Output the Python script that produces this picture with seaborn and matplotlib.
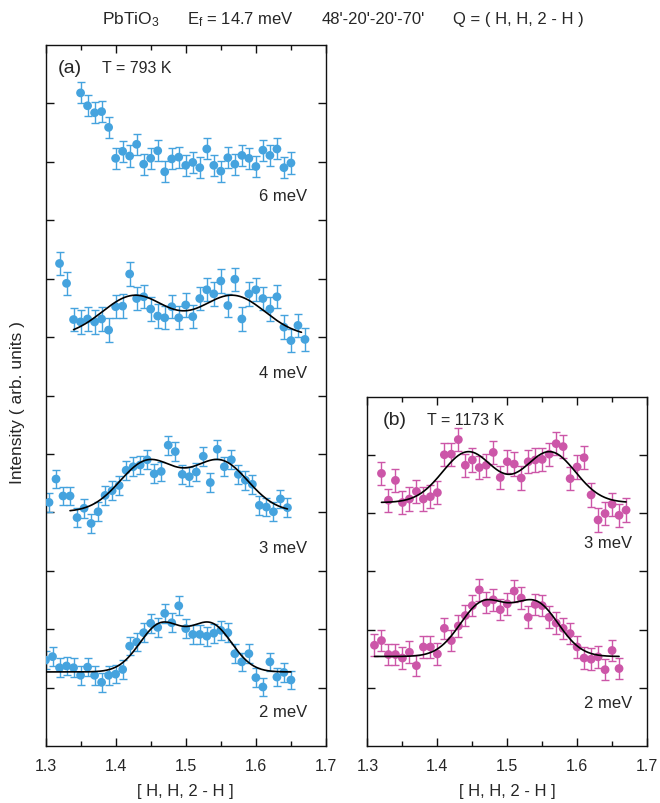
import numpy as np
import pandas as pd
import matplotlib
matplotlib.use("Agg")
import matplotlib.pyplot as plt
import seaborn as sns

sns.set_style("ticks")
plt.rcParams['font.family'] = ['Liberation Sans', 'DejaVu Sans']
plt.rcParams['mathtext.fontset'] = 'custom'
plt.rcParams['mathtext.rm'] = 'Liberation Sans'
plt.rcParams['mathtext.it'] = 'Liberation Sans'

BLUE = '#45a3de'
PINK = '#cc56a8'

# ---------------- data (intensity in offset units of the tick spacing) ----------------
H_A6 = [1.35, 1.36, 1.37, 1.38, 1.39, 1.40, 1.41, 1.42, 1.43, 1.44, 1.45, 1.46, 1.47, 1.48,
        1.49, 1.50, 1.51, 1.52, 1.53, 1.54, 1.55, 1.56, 1.57, 1.58, 1.59, 1.60, 1.61, 1.62,
        1.63, 1.64, 1.65]
I_A6 = [11.18, 10.96, 10.84, 10.86, 10.59, 10.06, 10.18, 10.10, 10.30, 9.96, 10.06, 10.19,
        9.83, 10.05, 10.08, 9.94, 9.99, 9.90, 10.22, 9.94, 9.84, 10.07, 9.96, 10.11, 10.06,
        9.92, 10.20, 10.11, 10.22, 9.90, 9.98]

H_A4 = [1.32, 1.33, 1.34, 1.35, 1.36, 1.37, 1.38, 1.39, 1.40, 1.41, 1.42, 1.43, 1.44, 1.45,
        1.46, 1.47, 1.48, 1.49, 1.50, 1.51, 1.52, 1.53, 1.54, 1.55, 1.56, 1.57, 1.58, 1.59,
        1.60, 1.61, 1.62, 1.63, 1.64, 1.65, 1.66, 1.67]
I_A4 = [8.26, 7.92, 7.30, 7.26, 7.31, 7.26, 7.31, 7.12, 7.52, 7.53, 8.08, 7.66, 7.69, 7.48,
        7.36, 7.33, 7.52, 7.33, 7.55, 7.35, 7.66, 7.81, 7.74, 7.96, 7.54, 7.99, 7.31, 7.74,
        7.81, 7.66, 7.48, 7.69, 7.17, 6.94, 7.20, 6.96]

H_A3 = [1.305, 1.315, 1.325, 1.335, 1.345, 1.355, 1.365, 1.375, 1.385, 1.395, 1.405, 1.415,
        1.425, 1.435, 1.445, 1.455, 1.465, 1.475, 1.485, 1.495, 1.505, 1.515, 1.525, 1.535,
        1.545, 1.555, 1.565, 1.575, 1.585, 1.595, 1.605, 1.615, 1.625, 1.635, 1.645]
I_A3 = [4.17, 4.57, 4.28, 4.28, 3.91, 4.07, 3.81, 4.01, 4.29, 4.37, 4.46, 4.72, 4.78, 4.81,
        4.90, 4.66, 4.70, 5.15, 5.04, 4.65, 4.61, 4.69, 4.96, 4.51, 5.08, 4.78, 4.90, 4.65,
        4.55, 4.48, 4.12, 4.09, 4.01, 4.23, 4.08]

H_A2 = [1.30, 1.31, 1.32, 1.33, 1.34, 1.35, 1.36, 1.37, 1.38, 1.39, 1.40, 1.41, 1.42, 1.43,
        1.44, 1.45, 1.46, 1.47, 1.48, 1.49, 1.50, 1.51, 1.52, 1.53, 1.54, 1.55, 1.56, 1.57,
        1.58, 1.59, 1.60, 1.61, 1.62, 1.63, 1.64, 1.65]
I_A2 = [1.47, 1.53, 1.34, 1.37, 1.34, 1.21, 1.35, 1.21, 1.09, 1.21, 1.23, 1.31, 1.71, 1.78,
        1.94, 2.10, 2.03, 2.27, 2.11, 2.40, 2.01, 1.91, 1.91, 1.88, 1.93, 1.98, 1.94, 1.58,
        1.44, 1.58, 1.17, 1.01, 1.44, 1.18, 1.26, 1.13]

H_B3 = [1.32, 1.33, 1.34, 1.35, 1.36, 1.37, 1.38, 1.39, 1.40, 1.41, 1.42, 1.43, 1.44, 1.45,
        1.46, 1.47, 1.48, 1.49, 1.50, 1.51, 1.52, 1.53, 1.54, 1.55, 1.56, 1.57, 1.58, 1.59,
        1.60, 1.61, 1.62, 1.63, 1.64, 1.65, 1.66, 1.67]
I_B3 = [4.68, 4.22, 4.56, 4.18, 4.24, 4.37, 4.24, 4.28, 4.35, 5.00, 5.01, 5.26, 4.82, 4.91,
        4.78, 4.82, 5.04, 4.61, 4.88, 4.84, 4.60, 4.88, 4.91, 4.92, 5.01, 5.19, 5.14, 4.59,
        4.79, 4.95, 4.31, 3.88, 3.99, 4.15, 3.96, 4.05]

H_B2 = [1.31, 1.32, 1.33, 1.34, 1.35, 1.36, 1.37, 1.38, 1.39, 1.40, 1.41, 1.42, 1.43, 1.44,
        1.45, 1.46, 1.47, 1.48, 1.49, 1.50, 1.51, 1.52, 1.53, 1.54, 1.55, 1.56, 1.57, 1.58,
        1.59, 1.60, 1.61, 1.62, 1.63, 1.64, 1.65, 1.66]
I_B2 = [1.73, 1.81, 1.57, 1.57, 1.51, 1.61, 1.38, 1.70, 1.70, 1.58, 2.02, 1.81, 2.06, 2.24,
        2.41, 2.68, 2.46, 2.51, 2.34, 2.44, 2.66, 2.54, 2.21, 2.43, 2.41, 2.21, 2.11, 2.02,
        1.93, 1.70, 1.51, 1.49, 1.53, 1.31, 1.64, 1.33]

# error bar half-lengths per scan
ERR = {'A6': 0.18, 'A4': 0.20, 'A3': 0.16, 'A2': 0.16, 'B3': 0.20, 'B2': 0.185}

# fitted two-peak model parameters:
# baseline, amplitude, centre1, centre2, width(sigma), H start, H end
FIT_A4 = [7.01, 0.70, 1.427, 1.567, 0.046, 1.34, 1.665]
FIT_A3 = [4.01, 0.86, 1.446, 1.549, 0.040, 1.335, 1.645]
FIT_A2 = [1.268, 0.80, 1.464, 1.536, 0.030, 1.30, 1.65]
FIT_B3 = [4.18, 0.868, 1.444, 1.561, 0.0366, 1.32, 1.67]
FIT_B2 = [1.537, 0.895, 1.465, 1.541, 0.033, 1.31, 1.66]

ENERGY_LABELS_A = ['6 meV', '4 meV', '3 meV', '2 meV']
ENERGY_LABELS_B = ['3 meV', '2 meV']


def fit_frame(p):
    b, a, c1, c2, s, h0, h1 = p
    h = np.linspace(h0, h1, 300)
    y = b + a * (np.exp(-(h - c1) ** 2 / (2 * s ** 2)) + np.exp(-(h - c2) ** 2 / (2 * s ** 2)))
    return pd.DataFrame({'H': h, 'I': y})


def draw_scan(ax, h, i, err, color):
    df = pd.DataFrame({'H': h, 'I': i})
    ax.errorbar(df['H'], df['I'], yerr=err, fmt='none', ecolor=color, elinewidth=1.0,
                capsize=3.0, capthick=1.0, zorder=2)
    sns.scatterplot(data=df, x='H', y='I', ax=ax, color=color, s=40, edgecolor='none',
                    linewidth=0, zorder=3, legend=False)


def draw_fit(ax, p):
    sns.lineplot(data=fit_frame(p), x='H', y='I', ax=ax, color='black', lw=1.2,
                 zorder=4, legend=False, sort=False)


def style_axes(ax, ntop):
    ax.set_xlim(1.3, 1.7)
    ax.set_ylim(0, ntop)
    ax.set_xticks([1.3, 1.4, 1.5, 1.6, 1.7])
    ax.set_xticklabels(['1.3', '1.4', '1.5', '1.6', '1.7'])
    ax.set_xticks([1.35, 1.45, 1.55, 1.65], minor=True)
    ax.set_yticks(list(range(1, ntop)))
    ax.set_yticklabels([])
    ax.tick_params(axis='both', which='major', direction='in', top=True, right=True,
                   length=6, width=1.0, color='#111111', labelsize=11.5, pad=9)
    ax.tick_params(axis='x', which='minor', direction='in', top=True, bottom=True,
                   length=3.5, width=1.0, color='#111111')
    for sp in ax.spines.values():
        sp.set_visible(True)
        sp.set_linewidth(1.0)
        sp.set_color('#111111')
    ax.set_xlabel('[ H, H, 2 - H ]', fontsize=12, labelpad=7)
    ax.set_ylabel('')


fig = plt.figure(figsize=(6.6, 8.04), dpi=100)
axA = fig.add_axes([45.5 / 660, (804 - 747) / 804, 280.5 / 660, 701 / 804])
axB = fig.add_axes([367.5 / 660, (804 - 747) / 804, 279.5 / 660, 349.5 / 804])

# panel (a)
draw_scan(axA, H_A6, I_A6, ERR['A6'], BLUE)
draw_scan(axA, H_A4, I_A4, ERR['A4'], BLUE)
draw_scan(axA, H_A3, I_A3, ERR['A3'], BLUE)
draw_scan(axA, H_A2, I_A2, ERR['A2'], BLUE)
for p in (FIT_A4, FIT_A3, FIT_A2):
    draw_fit(axA, p)
style_axes(axA, 12)

# panel (b)
draw_scan(axB, H_B3, I_B3, ERR['B3'], PINK)
draw_scan(axB, H_B2, I_B2, ERR['B2'], PINK)
for p in (FIT_B3, FIT_B2):
    draw_fit(axB, p)
style_axes(axB, 6)

# energy labels
for lab, y in zip(ENERGY_LABELS_A, [9.42, 6.39, 3.40, 0.59]):
    axA.text(1.673, y, lab, ha='right', va='center', fontsize=12)
for lab, y in zip(ENERGY_LABELS_B, [3.50, 0.74]):
    axB.text(1.679, y, lab, ha='right', va='center', fontsize=12)

axA.text(0.044, 0.968, '(a)', transform=axA.transAxes, ha='left', va='center', fontsize=14)
axA.text(0.20, 0.968, 'T = 793 K', transform=axA.transAxes, ha='left', va='center', fontsize=11.5)
axB.text(0.054, 0.935, '(b)', transform=axB.transAxes, ha='left', va='center', fontsize=14)
axB.text(0.213, 0.935, 'T = 1173 K', transform=axB.transAxes, ha='left', va='center', fontsize=11.5)

# header
ty = 1 - 24 / 804
fig.text(102 / 660, ty, 'PbTiO$_{\\mathregular{3}}$', ha='left', va='baseline', fontsize=12.5)
fig.text(187 / 660, ty, 'E$_f$ = 14.7 meV', ha='left', va='baseline', fontsize=12)
fig.text(322 / 660, ty, "48'-20'-20'-70'", ha='left', va='baseline', fontsize=12)
fig.text(453 / 660, ty, 'Q = ( H, H, 2 - H )', ha='left', va='baseline', fontsize=12)

fig.text(18 / 660, 1 - 403 / 804, 'Intensity ( arb. units )', rotation=90,
         ha='center', va='center', fontsize=12.5)

fig.savefig('out.png', dpi=100)
